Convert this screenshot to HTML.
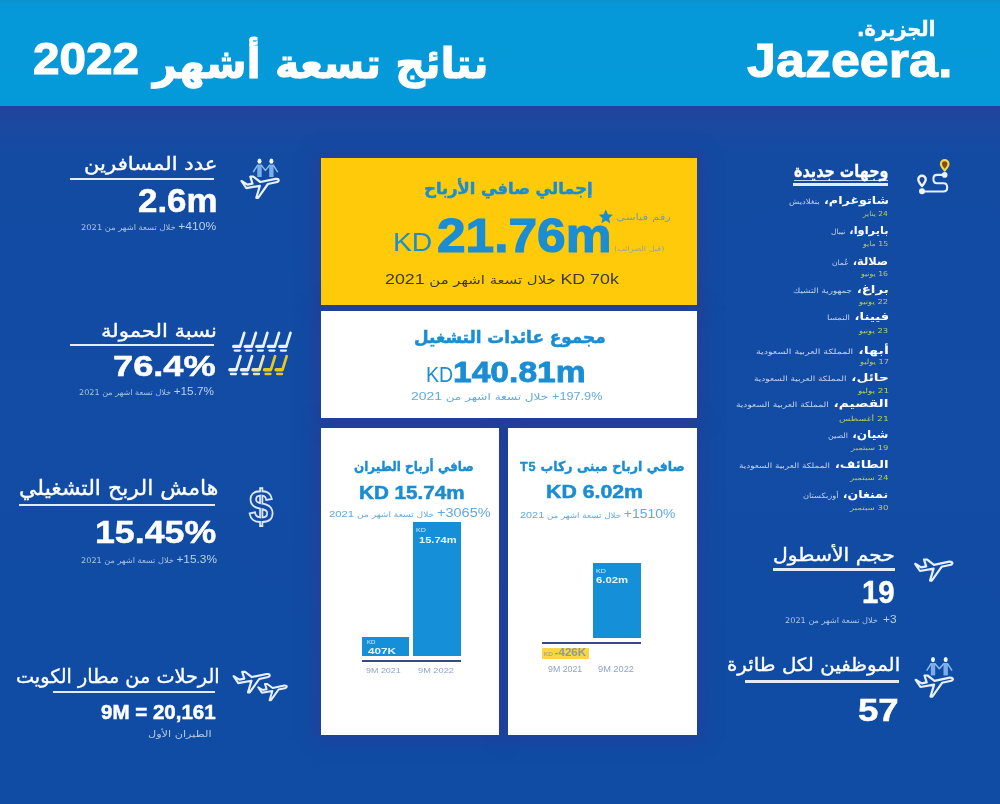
<!DOCTYPE html>
<html lang="ar">
<head>
<meta charset="utf-8">
<title>Jazeera 9M 2022</title>
<style>
html,body{margin:0;padding:0;}
body{width:1000px;height:804px;overflow:hidden;position:relative;background:#1f469f;
  font-family:"Liberation Sans","DejaVu Sans",sans-serif;color:#fff;}
#bg{position:absolute;left:0;top:0;width:1000px;height:804px;
  background:linear-gradient(180deg,#22439d 106px,#1b48a0 125px,#134ba3 150px,#104ca4 100%);}
#hdr{position:absolute;left:0;top:0;width:1000px;height:106px;background:linear-gradient(180deg,#0f90cd 0,#0698d8 4px,#049ad9 100%);}
.t{position:absolute;white-space:nowrap;line-height:1;margin:0;transform-origin:0 0;}
.ar{font-family:"DejaVu Sans","Liberation Sans",sans-serif;direction:rtl;}
.lt{font-family:"Liberation Sans",sans-serif;}
.b{font-weight:bold;}
.ln{position:absolute;background:#e3ecfa;}
.s{color:#a9c3e0;}
.sb{font-size:1.45em;color:#b9d2e6;}
.pn{position:absolute;background:#fff;}
.sh{box-shadow:0 0 16px 5px rgba(52,52,148,0.5);}
.bl{color:#1a8dd3;}
.dn{font-weight:bold;color:#fff;}
.dc{font-size:0.66em;font-weight:normal;color:#c4d2ec;}
.dd{color:#b5cf52;}
svg{position:absolute;left:0;top:0;overflow:visible;}
</style>
</head>
<body>
<div id="bg"></div>
<div id="hdr"></div>
<!-- underlines -->
<div class="ln" style="left:70px;top:178px;width:144px;height:2px;"></div>
<div class="ln" style="left:70px;top:344px;width:144px;height:2px;"></div>
<div class="ln" style="left:19px;top:503.5px;width:196px;height:2.5px;"></div>
<div class="ln" style="left:53px;top:690.5px;width:162px;height:2.5px;"></div>
<div class="ln" style="left:794px;top:180.2px;width:94px;height:1px;opacity:0.85;"></div>
<div class="ln" style="left:793px;top:183px;width:94.5px;height:2.6px;"></div>
<div class="ln" style="left:773px;top:567.5px;width:121.5px;height:3px;"></div>
<div class="ln" style="left:745px;top:680px;width:154px;height:3px;"></div>

<!-- panel halos -->
<div class="pn sh" style="left:321px;top:158px;width:376px;height:147px;background:transparent;"></div>
<div class="pn sh" style="left:321px;top:311px;width:376px;height:107px;background:transparent;"></div>
<div class="pn sh" style="left:321px;top:428px;width:178px;height:307px;background:transparent;"></div>
<div class="pn sh" style="left:508px;top:428px;width:189px;height:307px;background:transparent;"></div>

<!-- panels -->
<div class="pn" style="left:321px;top:158px;width:376px;height:147px;background:#ffca0a;"></div>
<div class="pn" style="left:321px;top:311px;width:376px;height:107px;"></div>
<div class="pn" style="left:321px;top:428px;width:178px;height:307px;"></div>
<div class="pn" style="left:508px;top:428px;width:189px;height:307px;"></div>

<!-- charts -->
<div class="pn" style="left:361.7px;top:637px;width:47.2px;height:19px;background:#1590d8;"></div>
<div class="pn" style="left:413.4px;top:522.3px;width:47.4px;height:133.7px;background:#1590d8;"></div>
<div class="pn" style="left:361.7px;top:659.7px;width:99.1px;height:2.4px;background:#35498a;"></div>
<div class="pn" style="left:593.1px;top:562.8px;width:47.7px;height:75.1px;background:#1590d8;"></div>
<div class="pn" style="left:542px;top:642.2px;width:98.8px;height:2.3px;background:#35498a;"></div>
<div class="pn" style="left:542px;top:648.2px;width:47.4px;height:10.8px;background:#fbd640;border-radius:1px;"></div>

<!-- icons -->
<svg id="icons" width="1000" height="804" viewBox="0 0 1000 804" fill="none" stroke="#e6f0ff" stroke-linejoin="round" stroke-linecap="round">
  <!-- plane: fleet size -->
  <path transform="translate(913,557)" stroke-width="2.2" d="M2.2 6.8 L8.2 10.4 L13.2 9.4 L11 2.5 L14 2.5 L21 7.8 L36.3 4.6 Q39.4 4.4 39.4 6.2 Q39.3 7.6 36.8 8 L28.6 9.8 L18.8 23.6 L17 23.6 L20.6 11.6 L7 14 Z"/>
  <!-- passengers + plane -->
  <g id="pax1">
    <rect x="257.3" y="164.6" width="4.4" height="12.4" fill="#7aaee8" stroke="none"/>
    <rect x="269.2" y="164.6" width="4.4" height="12.4" fill="#7aaee8" stroke="none"/>
    <path d="M257.5 165.4 L253.5 171.7 M261.5 165.4 L265.4 170.4 L269.4 165.4 M273.4 165.4 L277.4 171.7" stroke="#8dbbf0" stroke-width="1.5"/>
    <ellipse cx="259.5" cy="161.2" rx="2" ry="2.6" fill="#f2f7ff" stroke="none"/>
    <ellipse cx="271.4" cy="161.2" rx="2" ry="2.6" fill="#f2f7ff" stroke="none"/>
    <path transform="translate(239.3,174.2)" stroke-width="2.2" d="M2.2 6.8 L8.2 10.4 L13.2 9.4 L11 2.5 L14 2.5 L21 7.8 L36.3 4.6 Q39.4 4.4 39.4 6.2 Q39.3 7.6 36.8 8 L28.6 9.8 L18.8 23.6 L17 23.6 L20.6 11.6 L7 14 Z"/>
  </g>
  <!-- staff + plane -->
  <g id="pax2">
    <rect x="930.8" y="663.0" width="4.4" height="12.4" fill="#7aaee8" stroke="none"/>
    <rect x="943.5" y="663.0" width="4.4" height="12.4" fill="#7aaee8" stroke="none"/>
    <path d="M931.0 663.8 L927.0 670.1 M935.0 663.8 L939.4 668.8 L943.7 663.8 M947.7 663.8 L951.7 670.1" stroke="#8dbbf0" stroke-width="1.5"/>
    <ellipse cx="933.0" cy="659.6" rx="2" ry="2.6" fill="#f2f7ff" stroke="none"/>
    <ellipse cx="945.7" cy="659.6" rx="2" ry="2.6" fill="#f2f7ff" stroke="none"/>
    <path transform="translate(913.5,673)" stroke-width="2.2" d="M2.2 6.8 L8.2 10.4 L13.2 9.4 L11 2.5 L14 2.5 L21 7.8 L36.3 4.6 Q39.4 4.4 39.4 6.2 Q39.3 7.6 36.8 8 L28.6 9.8 L18.8 23.6 L17 23.6 L20.6 11.6 L7 14 Z"/>
  </g>
  <!-- two planes -->
  <path transform="translate(231.5,669.5) scale(0.97,0.97)" stroke-width="2.2" d="M2.2 6.8 L8.2 10.4 L13.2 9.4 L11 2.5 L14 2.5 L21 7.8 L36.3 4.6 Q39.4 4.4 39.4 6.2 Q39.3 7.6 36.8 8 L28.6 9.8 L18.8 23.6 L17 23.6 L20.6 11.6 L7 14 Z"/>
  <path transform="translate(256.5,682) scale(0.77,0.77)" stroke-width="2.6" d="M2.2 6.8 L8.2 10.4 L13.2 9.4 L11 2.5 L14 2.5 L21 7.8 L36.3 4.6 Q39.4 4.4 39.4 6.2 Q39.3 7.6 36.8 8 L28.6 9.8 L18.8 23.6 L17 23.6 L20.6 11.6 L7 14 Z"/>
  <!-- route icon -->
  <g id="route">
    <path d="M944.7 174.9 H937 C932.2 174.9 932.2 183.3 937 183.3 H943.5 C948.4 183.3 948.4 191.5 943.5 191.5 H922" stroke-width="2.1"/>
    <circle cx="944.7" cy="174.9" r="2.8" fill="#eef4ff" stroke="none"/>
    <circle cx="922" cy="191.2" r="3" fill="#eef4ff" stroke="none"/>
    <path d="M944.7 170.6 C942.2 167.3 940.9 165.9 940.9 163.9 A3.8 3.8 0 0 1 948.5 163.9 C948.5 165.9 947.2 167.3 944.7 170.6 Z" fill="#8a4a0a" stroke="#f0d84a" stroke-width="2.1"/>
    <path d="M922 186 C919.5 182.8 918.3 181.4 918.3 179.4 A3.7 3.7 0 0 1 925.7 179.4 C925.7 181.4 924.5 182.8 922 186 Z" fill="#23418f" stroke="#eef4ff" stroke-width="2.4"/>
  </g>
  <!-- seats -->
  <g id="seats" fill="none">
    <g stroke="#eaf2ff">
      <path d="M244.3 332.8 L240.3 345.6" stroke-width="2.7"/><path d="M239.7 346.4 H233.7" stroke-width="3.4"/><path d="M234.7 350.6 H239.7" stroke-width="2.3"/>
      <path d="M255.9 332.8 L251.9 345.6" stroke-width="2.7"/><path d="M251.3 346.4 H245.3" stroke-width="3.4"/><path d="M246.3 350.6 H251.3" stroke-width="2.3"/>
      <path d="M267.4 332.8 L263.4 345.6" stroke-width="2.7"/><path d="M262.8 346.4 H256.8" stroke-width="3.4"/><path d="M257.8 350.6 H262.8" stroke-width="2.3"/>
      <path d="M279.0 332.8 L275.0 345.6" stroke-width="2.7"/><path d="M274.4 346.4 H268.4" stroke-width="3.4"/><path d="M269.4 350.6 H274.4" stroke-width="2.3"/>
      <path d="M290.5 332.8 L286.5 345.6" stroke-width="2.7"/><path d="M285.9 346.4 H279.9" stroke-width="3.4"/><path d="M280.9 350.6 H285.9" stroke-width="2.3"/>
      <path d="M240.5 356.2 L236.5 369.0" stroke-width="2.7"/><path d="M235.9 369.8 H229.9" stroke-width="3.4"/><path d="M230.9 374.0 H235.9" stroke-width="2.3"/>
      <path d="M252.1 356.2 L248.1 369.0" stroke-width="2.7"/><path d="M247.5 369.8 H241.5" stroke-width="3.4"/><path d="M242.5 374.0 H247.5" stroke-width="2.3"/>
    </g>
    <g stroke="#e9e6a8">
      <path d="M263.6 356.2 L259.6 369.0" stroke-width="2.7"/><path d="M259.0 369.8 H253.0" stroke-width="3.4"/><path d="M254.0 374.0 H259.0" stroke-width="2.3"/>
    </g>
    <g stroke="#e9c81e">
      <path d="M275.1 356.2 L271.1 369.0" stroke-width="2.7"/><path d="M270.5 369.8 H264.5" stroke-width="3.4"/><path d="M265.5 374.0 H270.5" stroke-width="2.3"/>
      <path d="M286.7 356.2 L282.7 369.0" stroke-width="2.7"/><path d="M282.1 369.8 H276.1" stroke-width="3.4"/><path d="M277.1 374.0 H282.1" stroke-width="2.3"/>
    </g>
  </g>
  <!-- star -->
  <polygon points="605.8,209.6 607.9,214.3 612.9,214.8 609.1,218.2 610.2,223.2 605.8,220.6 601.4,223.2 602.5,218.2 598.7,214.8 603.7,214.3" fill="#1a8dd3" stroke="none"/>
</svg>

<!-- text -->
<div class="t ar b" id="title" style="left:153.0px;top:42.6px;font-size:41.50px;transform:scaleX(0.995);-webkit-text-stroke:1.1px #fff;">نتائج تسعة أشهر</div>
<div class="t b" id="year" style="left:32.9px;top:36.9px;font-size:43.84px;transform:scaleX(1.086);-webkit-text-stroke:1.2px #fff;">2022</div>
<div class="t ar b" id="logoar" style="left:857.1px;top:19.2px;font-size:20.49px;transform:scaleX(0.949);-webkit-text-stroke:0.5px #fff;">الجزيرة.</div>
<div class="t b" id="logo" style="left:747.0px;top:36.4px;font-size:48.07px;transform:scaleX(1.083);-webkit-text-stroke:1px #fff;">Jazeera.</div>
<div class="t ar" id="l1h" style="left:83.9px;top:155.3px;font-size:18.20px;transform:scaleX(1.162);-webkit-text-stroke:0.35px #fff;">عدد المسافرين</div>
<div class="t b" id="l1v" style="left:137.9px;top:183.6px;font-size:33.85px;transform:scaleX(1.032);-webkit-text-stroke:0.5px #fff;">2.6m</div>
<div class="t ar s" id="l1s" style="left:81.0px;top:221.1px;font-size:7.80px;transform:scaleX(1.067);"><span class="lt sb">410%+</span> خلال تسعة اشهر من 2021</div>
<div class="t ar" id="l2h" style="left:100.9px;top:322.3px;font-size:18.20px;transform:scaleX(1.161);-webkit-text-stroke:0.35px #fff;">نسبة الحمولة</div>
<div class="t b" id="l2v" style="left:112.9px;top:351.3px;font-size:30.05px;transform:scaleX(1.206);-webkit-text-stroke:0.5px #fff;">76.4%</div>
<div class="t ar s" id="l2s" style="left:79.0px;top:386.0px;font-size:7.80px;transform:scaleX(1.039);"><span class="lt sb">15.7%+</span> خلال تسعة اشهر من 2021</div>
<div class="t ar" id="l3h" style="left:19.0px;top:477.8px;font-size:21.00px;transform:scaleX(1.048);-webkit-text-stroke:0.35px #fff;">هامش الربح التشغيلي</div>
<div class="t b" id="l3v" style="left:94.8px;top:517.0px;font-size:31.79px;transform:scaleX(1.124);-webkit-text-stroke:0.5px #fff;">15.45%</div>
<div class="t ar s" id="l3s" style="left:81.0px;top:554.1px;font-size:7.80px;transform:scaleX(1.047);"><span class="lt sb">15.3%+</span> خلال تسعة اشهر من 2021</div>
<div class="t ar" id="l4h" style="left:15.7px;top:666.8px;font-size:19.40px;transform:scaleX(0.991);-webkit-text-stroke:0.35px #fff;">الرحلات من مطار الكويت</div>
<div class="t b" id="l4v" style="left:100.6px;top:702.6px;font-size:19.60px;transform:scaleX(1.047);-webkit-text-stroke:0.5px #fff;">9M = 20,161</div>
<div class="t ar" id="l4s" style="left:147.9px;top:729.5px;font-size:8.87px;transform:scaleX(1.270);color:#b5cbe0;">الطيران الأول</div>
<div class="t b" id="dollar" style="left:249.3px;top:483.1px;font-size:47.01px;transform:scaleX(0.927);color:transparent;-webkit-text-stroke:1.8px #dde8fb;">$</div>
<div class="t ar b bl" id="y1" style="left:424.2px;top:180.5px;font-size:16.30px;-webkit-text-stroke-width:0.5px;">إجمالي صافي الأرباح</div>
<div class="t bl" id="ykd" style="left:393.4px;top:228.9px;font-size:26.40px;transform:scaleX(1.072);">KD</div>
<div class="t b bl" id="yv" style="left:437.0px;top:210.8px;font-size:48.16px;transform:scaleX(1.068);-webkit-text-stroke-width:1.2px;">21.76m</div>
<div class="t ar" id="yr1" style="left:616.4px;top:213.2px;font-size:8.62px;transform:scaleX(1.357);color:#6f9ab5;">رقم قياسي</div>
<div class="t ar" id="yr2" style="left:614.0px;top:246.1px;font-size:7.00px;transform:scaleX(1.165);color:#8aa7a8;">(قبل الضرائب)</div>
<div class="t ar" id="y3" style="left:385.4px;top:273.0px;font-size:11.44px;transform:scaleX(1.298);color:#3b3a30;"><span class="lt" style="font-size:1.2em;">KD 70k</span> خلال تسعة اشهر من <span class="lt" style="font-size:1.2em;">2021</span></div>
<div class="t ar b bl" id="w1" style="left:414.1px;top:328.9px;font-size:17.15px;transform:scaleX(0.982);-webkit-text-stroke-width:0.5px;">مجموع عائدات التشغيل</div>
<div class="t bl" id="wkd" style="left:426.1px;top:363.3px;font-size:22.80px;transform:scaleX(0.860);">KD</div>
<div class="t b bl" id="wv" style="left:453.4px;top:356.3px;font-size:30.42px;transform:scaleX(1.105);-webkit-text-stroke-width:0.8px;">140.81m</div>
<div class="t ar" id="w3" style="left:411.0px;top:391.3px;font-size:9.61px;transform:scaleX(1.256);color:#62a9de;"><span class="lt" style="font-size:1.05em;">197.9%+</span> خلال تسعة اشهر من <span class="lt" style="font-size:1.15em;">2021</span></div>
<div class="t ar b bl" id="a1" style="left:354.1px;top:460.3px;font-size:13.50px;transform:scaleX(0.887);-webkit-text-stroke-width:0.4px;">صافي أرباح الطيران</div>
<div class="t b bl" id="a2" style="left:358.9px;top:483.7px;font-size:18.40px;transform:scaleX(1.122);-webkit-text-stroke-width:0.5px;">KD 15.74m</div>
<div class="t ar" id="a3" style="left:329.1px;top:507.1px;font-size:7.50px;transform:scaleX(1.208);color:#62a9de;"><span class="lt" style="font-size:1.6em;">3065%+</span> خلال تسعة اشهر من <span class="lt" style="font-size:1.25em;">2021</span></div>
<div class="t " id="a4" style="left:366.9px;top:639.8px;font-size:5.20px;transform:scaleX(1.182);color:#d4eaf9;">KD</div>
<div class="t b" id="a5" style="left:368.0px;top:645.5px;font-size:9.80px;transform:scaleX(1.191);color:#e8f4fc;">407K</div>
<div class="t " id="a6" style="left:416.0px;top:528.4px;font-size:5.20px;transform:scaleX(1.374);color:#d4eaf9;">KD</div>
<div class="t b" id="a7" style="left:418.5px;top:534.9px;font-size:9.80px;transform:scaleX(1.131);color:#e8f4fc;">15.74m</div>
<div class="t " id="a8" style="left:366.2px;top:667.0px;font-size:7.65px;transform:scaleX(1.169);color:#8fa3c6;">9M 2021</div>
<div class="t " id="a9" style="left:418.0px;top:667.0px;font-size:7.65px;transform:scaleX(1.207);color:#8fa3c6;">9M 2022</div>
<div class="t ar b bl" id="b1" style="left:519.9px;top:460.2px;font-size:13.50px;transform:scaleX(0.934);-webkit-text-stroke-width:0.4px;">صافي ارباح مبنى ركاب <span class="lt" style="letter-spacing:0.06em;">T5</span></div>
<div class="t b bl" id="b2" style="left:546.1px;top:483.4px;font-size:18.40px;transform:scaleX(1.158);-webkit-text-stroke-width:0.5px;">KD 6.02m</div>
<div class="t ar" id="b3" style="left:519.9px;top:507.6px;font-size:7.50px;transform:scaleX(1.161);color:#62a9de;"><span class="lt" style="font-size:1.6em;">1510%+</span> خلال تسعة اشهر من <span class="lt" style="font-size:1.25em;">2021</span></div>
<div class="t " id="b4" style="left:596.0px;top:569.2px;font-size:5.20px;transform:scaleX(1.390);color:#d4eaf9;">KD</div>
<div class="t b" id="b5" style="left:596.3px;top:575.4px;font-size:9.80px;transform:scaleX(1.154);color:#e8f4fc;">6.02m</div>
<div class="t b" id="b6" style="left:544.0px;top:647.4px;font-size:11.21px;transform:scaleX(1.034);color:#8b9aa0;"><span style="font-size:0.55em;font-weight:normal;">KD </span>-426K</div>
<div class="t " id="b8" style="left:547.7px;top:666.2px;font-size:8.23px;transform:scaleX(1.070);color:#8fa3c6;">9M 2021</div>
<div class="t " id="b9" style="left:598.0px;top:666.2px;font-size:8.23px;transform:scaleX(1.122);color:#8fa3c6;">9M 2022</div>
<div class="t ar b" id="r1h" style="left:794.1px;top:163.1px;font-size:17.60px;transform:scaleX(0.817);-webkit-text-stroke-width:0.3px;">وجهات جديدة</div>
<div class="t ar dn" id="d0n" style="left:789.0px;top:195.1px;font-size:11.00px;transform:scaleX(1.154);">شاتوغرام، <span class="dc">بنغلاديش</span></div>
<div class="t ar dd" id="d0d" style="left:863.3px;top:211.1px;font-size:6.80px;transform:scaleX(1.099);">24 يناير</div>
<div class="t ar dn" id="d1n" style="left:831.0px;top:225.2px;font-size:11.00px;transform:scaleX(1.036);">بايراوا، <span class="dc">نيبال</span></div>
<div class="t ar dd" id="d1d" style="left:863.2px;top:240.6px;font-size:6.80px;transform:scaleX(1.154);">15 مايو</div>
<div class="t ar dn" id="d2n" style="left:832.4px;top:256.2px;font-size:11.00px;transform:scaleX(1.040);">صلالة، <span class="dc">عُمان</span></div>
<div class="t ar dd" id="d2d" style="left:861.2px;top:270.6px;font-size:6.80px;transform:scaleX(1.141);">16 يونيو</div>
<div class="t ar dn" id="d3n" style="left:793.0px;top:283.5px;font-size:11.00px;transform:scaleX(1.213);">براغ، <span class="dc">جمهورية التشيك</span></div>
<div class="t ar dd" id="d3d" style="left:859.4px;top:299.3px;font-size:6.80px;transform:scaleX(1.224);">22 يونيو</div>
<div class="t ar dn" id="d4n" style="left:826.7px;top:311.0px;font-size:11.00px;transform:scaleX(1.194);">فيينا، <span class="dc">النمسا</span></div>
<div class="t ar dd" id="d4d" style="left:859.3px;top:327.5px;font-size:6.80px;transform:scaleX(1.224);">23 يونيو</div>
<div class="t ar dn" id="d5n" style="left:756.0px;top:344.8px;font-size:11.00px;transform:scaleX(1.307);">أبها، <span class="dc">المملكة العربية السعودية</span></div>
<div class="t ar dd" id="d5d" style="left:860.0px;top:358.6px;font-size:6.80px;transform:scaleX(1.219);">17 يوليو</div>
<div class="t ar dn" id="d6n" style="left:754.3px;top:371.8px;font-size:11.00px;transform:scaleX(1.243);">حائل، <span class="dc">المملكة العربية السعودية</span></div>
<div class="t ar dd" id="d6d" style="left:858.0px;top:387.6px;font-size:6.80px;transform:scaleX(1.306);">21 يوليو</div>
<div class="t ar dn" id="d7n" style="left:736.3px;top:398.3px;font-size:11.00px;transform:scaleX(1.248);">القصيم، <span class="dc">المملكة العربية السعودية</span></div>
<div class="t ar dd" id="d7d" style="left:839.0px;top:416.1px;font-size:6.80px;transform:scaleX(1.361);">21 أغسطس</div>
<div class="t ar dn" id="d8n" style="left:828.1px;top:428.8px;font-size:11.00px;transform:scaleX(1.098);">شيان، <span class="dc">الصين</span></div>
<div class="t ar dd" id="d8d" style="left:851.0px;top:444.6px;font-size:6.80px;transform:scaleX(1.234);">19 سبتمبر</div>
<div class="t ar dn" id="d9n" style="left:739.4px;top:458.8px;font-size:11.00px;transform:scaleX(1.223);">الطائف، <span class="dc">المملكة العربية السعودية</span></div>
<div class="t ar dd" id="d9d" style="left:850.0px;top:475.1px;font-size:6.80px;transform:scaleX(1.268);">24 سبتمبر</div>
<div class="t ar dn" id="d10n" style="left:803.4px;top:488.8px;font-size:11.00px;transform:scaleX(1.136);">نمنغان، <span class="dc">أوزبكستان</span></div>
<div class="t ar dd" id="d10d" style="left:850.0px;top:505.1px;font-size:6.80px;transform:scaleX(1.268);">30 سبتمبر</div>
<div class="t ar" id="r2h" style="left:772.9px;top:546.0px;font-size:18.00px;transform:scaleX(1.129);-webkit-text-stroke:0.35px #fff;">حجم الأسطول</div>
<div class="t b" id="r2v" style="left:862.2px;top:576.5px;font-size:31.91px;transform:scaleX(0.919);-webkit-text-stroke:0.5px #fff;">19</div>
<div class="t ar s" id="r2s" style="left:785.4px;top:613.5px;font-size:7.80px;transform:scaleX(1.048);"><span class="lt sb">3+</span>&nbsp; خلال تسعة اشهر من 2021</div>
<div class="t ar" id="r3h" style="left:726.7px;top:655.5px;font-size:18.50px;transform:scaleX(1.070);-webkit-text-stroke:0.35px #fff;">الموظفين لكل طائرة</div>
<div class="t b" id="r3v" style="left:857.9px;top:694.9px;font-size:31.91px;transform:scaleX(1.147);-webkit-text-stroke:0.5px #fff;">57</div>
</body>
</html>
